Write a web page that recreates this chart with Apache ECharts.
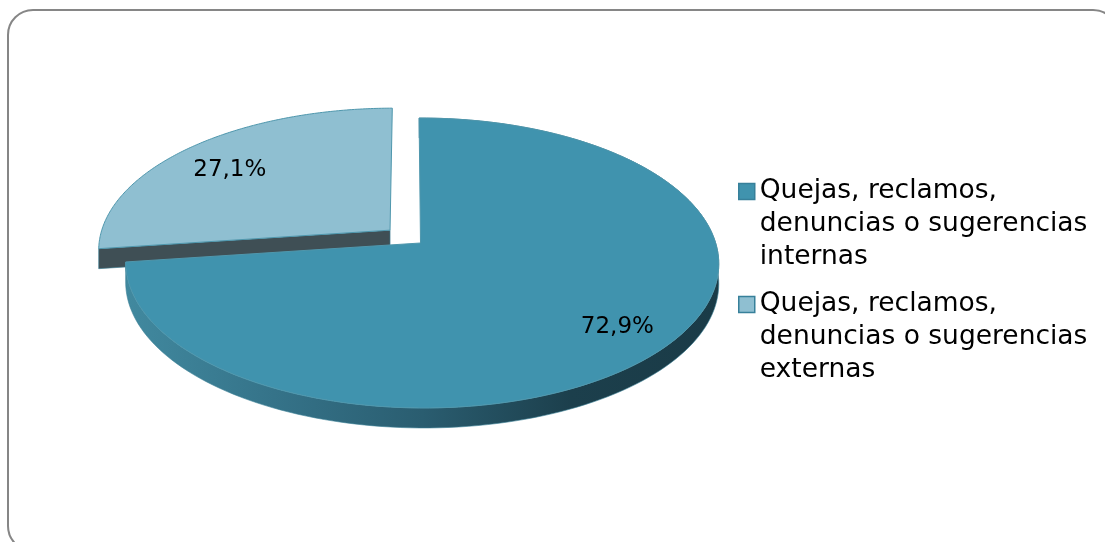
<!DOCTYPE html>
<html>
<head>
<meta charset="utf-8">
<style>html,body{margin:0;padding:0;background:#fff}#c{width:1105px;height:542px}</style>
<script src="https://cdn.jsdelivr.net/npm/echarts@6/dist/echarts.min.js"></script>
</head>
<body>
<div id="c"></div>
<script>
const categories = ['Quejas, reclamos,\ndenuncias o sugerencias\ninternas', 'Quejas, reclamos,\ndenuncias o sugerencias\nexternas'];
const values = [72.9, 27.1];
const valueLabels = ['72,9%', '27,1%'];
const colors = ['#4093AE', '#8FBFD1'];

// Perspective view of the pie plane
const view = {ox: 420.5, oy: 243, A: 293.7, B: 142.2, k: 0.138, m: 0.005, skew: 1.6, depth: 20, explode: [0, 0.139]};
const labelPlace = [{r: 0.82, turn: 0}, {r: 0.755, turn: -2.9}];

function project(x, y) {
  const w = 1 - view.k * y - view.m * x;
  return [view.ox + (view.A * x + view.skew * y) / w, view.oy + view.B * y / w];
}
const total = values.reduce((a, b) => a + b, 0);
function sliceAngles(i) {           // radians clockwise from the top
  let s = 0;
  for (let j = 0; j < i; j++) s += values[j];
  return [s / total * 2 * Math.PI, (s + values[i]) / total * 2 * Math.PI];
}
function renderSlice(i) {
  return function () {
    const [a0, a1] = sliceAngles(i);
    const mid = (a0 + a1) / 2;
    const ex = view.explode[i] * Math.sin(mid), ey = -view.explode[i] * Math.cos(mid);
    const arc = [];
    const n = 160;
    for (let t = 0; t <= n; t++) {
      const a = a0 + (a1 - a0) * t / n;
      arc.push(project(ex + Math.sin(a), ey - Math.cos(a)));
    }
    const apex = project(ex, ey);
    const down = p => [p[0], p[1] + view.depth];
    const children = [];
    if (i === 0) {
      children.push({
        type: 'polygon',
        shape: {points: arc.concat(arc.map(down).reverse())},
        style: {
          fill: new echarts.graphic.LinearGradient(0, 0, 1, 0, [
            {offset: 0, color: '#41899F'},
            {offset: 0.25, color: '#357389'},
            {offset: 0.5, color: '#2A5D70'},
            {offset: 0.75, color: '#1C3F4C'},
            {offset: 1, color: '#1A3B47'}
          ]),
          stroke: '#3b7f95', lineWidth: 0.6
        }
      });
    } else {
      const tip = arc[0];
      children.push({
        type: 'polygon',
        shape: {points: [apex, tip, down(tip), down(apex)]},
        style: {fill: '#3F4F55', stroke: '#3b7f95', lineWidth: 0.6}
      });
    }
    children.push({
      type: 'polygon',
      shape: {points: [apex].concat(arc)},
      style: {fill: colors[i], stroke: '#4f97ad', lineWidth: 1}
    });
    const lm = mid + labelPlace[i].turn * Math.PI / 180;
    const lp = project(ex + labelPlace[i].r * Math.sin(lm), ey - labelPlace[i].r * Math.cos(lm));
    children.push({
      type: 'text',
      style: {
        x: lp[0] - 0.5, y: lp[1] + 1, text: valueLabels[i], align: 'center', verticalAlign: 'middle',
        font: '23px "DejaVu Sans"', fill: '#000'
      }
    });
    return {type: 'group', children};
  };
}

const chart = echarts.init(document.getElementById('c'), null, {renderer: 'canvas'});
chart.setOption({
  animation: false,
  backgroundColor: '#fff',
  graphic: [{
    type: 'rect', z: 0,
    shape: {x: 8, y: 10, width: 1110, height: 541, r: 25},
    style: {fill: '#fff', stroke: '#868686', lineWidth: 2}
  }],
  legend: {
    left: 738, top: 109, orient: 'vertical', padding: 0,
    itemWidth: 16, itemHeight: 16, itemGap: -52,
    icon: 'rect',
    formatter: name => '\n\n' + name,
    textStyle: {fontFamily: 'DejaVu Sans', fontSize: 26.5, lineHeight: 33, color: '#000'},
    data: categories.map((name, i) => ({name, itemStyle: {color: colors[i], borderColor: '#37809A', borderWidth: 1.5}}))
  },
  series: [1, 0].map(i => ({
    type: 'custom',
    name: categories[i],
    coordinateSystem: 'none',
    silent: true,
    itemStyle: {color: colors[i]},
    data: [values[i]],
    renderItem: renderSlice(i)
  }))
});
</script>
</body>
</html>
